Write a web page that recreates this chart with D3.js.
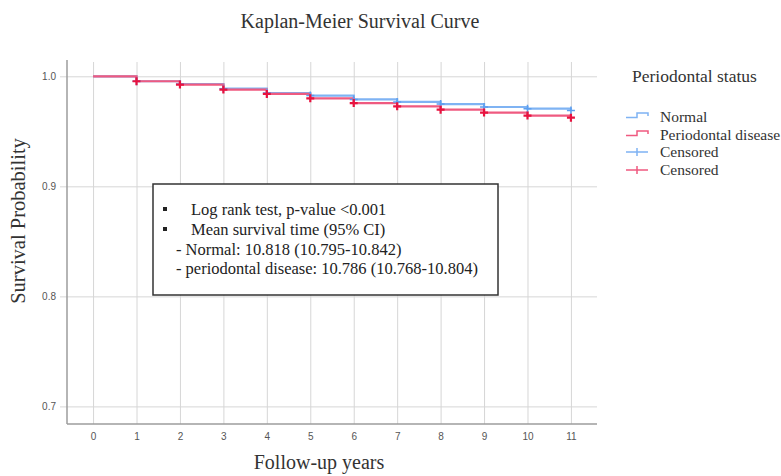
<!DOCTYPE html>
<html>
<head>
<meta charset="utf-8">
<script src="https://cdn.jsdelivr.net/npm/d3@7"></script>
<style>
  body { margin: 0; background: #fff; }
  svg { display: block; }
</style>
</head>
<body>
<script>
// Kaplan-Meier curve, survival values (per year)
var years = [0, 1, 2, 3, 4, 5, 6, 7, 8, 9, 10, 11];
var normalSurv  = [1.000, 0.9955, 0.9930, 0.9888, 0.9848, 0.9825, 0.9790,
                   0.9767, 0.9748, 0.9721, 0.9706, 0.9690];
var diseaseSurv = [1.000, 0.9955, 0.9925, 0.9879, 0.9840, 0.9800, 0.9757,
                   0.9727, 0.9697, 0.9670, 0.9643, 0.9624];
var censorYears = [1, 2, 3, 4, 5, 6, 7, 8, 9, 10, 11];
var yTicks = [0.7, 0.8, 0.9, 1.0];
var legendLabels = ["Normal", "Periodontal disease", "Censored", "Censored"];
var noteLines = ["Log rank test, p-value <0.001",
                 "Mean survival time (95% CI)",
                 "- Normal: 10.818 (10.795-10.842)",
                 "- periodontal disease: 10.786 (10.768-10.804)"];

var W = 781, H = 476;
// plot box in pixels (note: "top" is a reserved global in browsers)
var pL = 67, pR = 597, pT = 62, pB = 424;
var blue = "#7fb3f3", red = "#ef5a80";
var blueMark = "#5c9ff0", redMark = "#e8123f";
var serif = "'Liberation Serif', 'Times New Roman', serif";

var svg = d3.select("body").append("svg")
    .attr("width", W)
    .attr("height", H);

var x = d3.scaleLinear().domain([-0.6, 11.6]).range([pL, pR]);
var y = d3.scaleLinear().domain([0.684, 1.013]).range([pB, pT]);

// y axis + horizontal grid
var yAxis = d3.axisLeft(y).tickValues(yTicks).tickFormat(d3.format(".1f"))
    .tickSizeInner(-(pR - pL)).tickSizeOuter(0).tickPadding(11);
var gy = svg.append("g")
    .attr("transform", "translate(" + pL + ",0)")
    .call(yAxis);
gy.select(".domain").remove();
gy.selectAll(".tick line").attr("x1", -7).attr("stroke", "#d6d6d6");
gy.selectAll(".tick text")
    .attr("fill", "#555")
    .attr("font-family", "'Liberation Sans', Arial, sans-serif")
    .attr("font-size", "10px");

// x axis + vertical grid
var xAxis = d3.axisBottom(x).tickValues(years)
    .tickSizeInner(-(pB - pT)).tickSizeOuter(0).tickPadding(9);
var gx = svg.append("g")
    .attr("transform", "translate(0," + pB + ")")
    .call(xAxis);
gx.select(".domain").remove();
gx.selectAll(".tick line").attr("stroke", "#d6d6d6");
gx.selectAll(".tick text")
    .attr("fill", "#555")
    .attr("font-family", "'Liberation Sans', Arial, sans-serif")
    .attr("font-size", "10px");

// axis lines
svg.append("line")
    .attr("x1", pL).attr("x2", pL).attr("y1", pT - 2).attr("y2", pB)
    .attr("stroke", "#9c9c9c").attr("stroke-width", 1.5);
svg.append("line")
    .attr("x1", pL).attr("x2", pR).attr("y1", pB).attr("y2", pB)
    .attr("stroke", "#9c9c9c").attr("stroke-width", 1.5);

// step curves
var step = d3.line()
    .x(function(d) { return x(d[0]); })
    .y(function(d) { return y(d[1]); })
    .curve(d3.curveStepAfter);

var series = [
    {vals: normalSurv, line: blue, mark: blueMark, w: 1.5},
    {vals: diseaseSurv, line: red, mark: redMark, w: 2.2}
];

series.forEach(function(s) {
    svg.append("path")
        .datum(years.map(function(t, i) { return [t, s.vals[i]]; }))
        .attr("d", step)
        .attr("fill", "none")
        .attr("stroke", s.line)
        .attr("stroke-width", 2.2);
});

// censored marks
series.forEach(function(s) {
    var g = svg.append("g");
    censorYears.forEach(function(t) {
        var cx = x(t), cy = y(s.vals[years.indexOf(t)]);
        g.append("path")
            .attr("d", "M" + (cx - 4) + "," + cy + "H" + (cx + 4) +
                       "M" + cx + "," + (cy - 4) + "V" + (cy + 4))
            .attr("stroke", s.mark)
            .attr("stroke-width", s.w)
            .attr("fill", "none");
    });
});

// title and axis labels
svg.append("text")
    .attr("x", 360).attr("y", 28)
    .attr("text-anchor", "middle")
    .attr("font-family", serif).attr("font-size", "20px")
    .attr("fill", "#333")
    .text("Kaplan-Meier Survival Curve");

svg.append("text")
    .attr("x", 319).attr("y", 469)
    .attr("text-anchor", "middle")
    .attr("font-family", serif).attr("font-size", "20px")
    .attr("fill", "#333")
    .text("Follow-up years");

svg.append("text")
    .attr("transform", "translate(25,221) rotate(-90)")
    .attr("text-anchor", "middle")
    .attr("font-family", serif).attr("font-size", "20.5px")
    .attr("fill", "#333")
    .text("Survival Probability");

// legend
var lg = svg.append("g");
lg.append("text")
    .attr("x", 632).attr("y", 82)
    .attr("font-family", serif).attr("font-size", "17.5px")
    .attr("fill", "#333")
    .text("Periodontal status");

var legY = [117, 135, 152, 170];
legendLabels.forEach(function(lab, i) {
    var yy = legY[i];
    var col = (i % 2 === 0) ? blue : red;
    if (i < 2) {
        lg.append("path")
            .attr("d", "M626," + (yy + 0.5) + "H637V" + (yy - 4) + "H648V" + (yy - 1))
            .attr("fill", "none").attr("stroke", col).attr("stroke-width", 1.5);
    } else {
        lg.append("path")
            .attr("d", "M626," + yy + "H648M637," + (yy - 4) + "V" + (yy + 4))
            .attr("fill", "none").attr("stroke", col).attr("stroke-width", 1.5);
    }
    lg.append("text")
        .attr("x", 660).attr("y", legY[i] + 4.5)
        .attr("font-family", serif).attr("font-size", "15.5px")
        .attr("fill", "#333")
        .text(lab);
});

// annotation box
var box = svg.append("g");
box.append("rect")
    .attr("x", 153).attr("y", 184)
    .attr("width", 345).attr("height", 111)
    .attr("fill", "#fff")
    .attr("stroke", "#333").attr("stroke-width", 1.5);

var noteY = [215, 235, 255, 274];
noteLines.forEach(function(t, i) {
    if (i < 2) {
        box.append("rect")
            .attr("x", 163).attr("y", noteY[i] - 8)
            .attr("width", 4).attr("height", 4)
            .attr("fill", "#222");
    }
    box.append("text")
        .attr("x", i < 2 ? 191 : 176).attr("y", noteY[i])
        .attr("font-family", serif).attr("font-size", "16.5px")
        .attr("fill", "#222")
        .text(t);
});
</script>
</body>
</html>
